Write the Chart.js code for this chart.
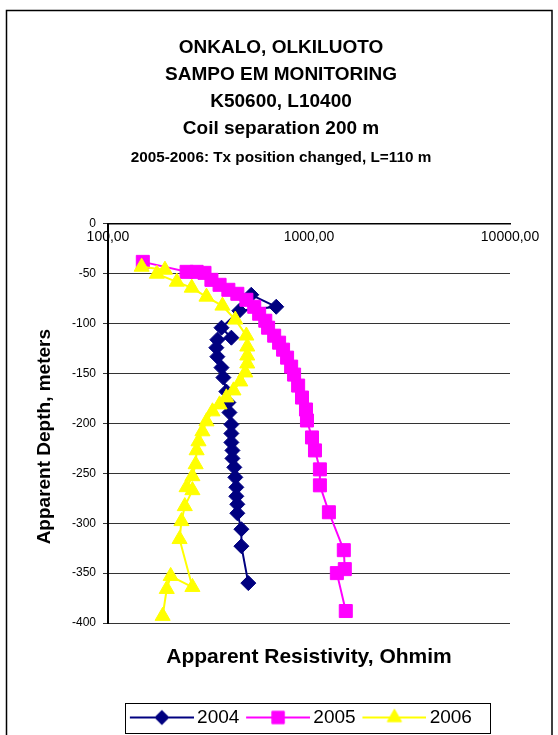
<!DOCTYPE html>
<html>
<head>
<meta charset="utf-8">
<script src="https://cdn.jsdelivr.net/npm/chart.js@4.4.1/dist/chart.umd.min.js"></script>
<style>
  html, body { margin: 0; padding: 0; background: #fff; }
</style>
</head>
<body>
<canvas id="sampoChart" width="558" height="735"></canvas>
<script>
const FONT = "'Liberation Sans', Arial, sans-serif";

// apparent resistivity (ohm-m) and apparent depth (m) per survey year
const res2004 = [516, 687, 450, 367, 411, 350, 346, 350, 367, 375, 388, 397, 402, 411, 411, 411, 416, 416, 425, 430, 435, 435, 440, 440, 461, 461, 499];
const depth2004 = [-71, -83, -87, -104, -114, -116, -124, -133, -144, -154, -168, -179, -189, -201, -210, -219, -227, -235, -244, -254, -264, -273, -281, -290, -306, -323, -360];

const res2005 = [149, 246, 276, 302, 327, 359, 397, 440, 488, 534, 565, 606, 626, 671, 710, 743, 778, 815, 843, 883, 923, 966, 977, 1035, 1071, 1133, 1133, 1256, 1490, 1507, 1376, 1524];
const depth2005 = [-38, -48, -48, -49, -56, -61, -66, -70, -76, -83, -90, -97, -104, -112, -119, -126, -134, -143, -151, -162, -174, -186, -197, -214, -227, -246, -262, -289, -327, -346, -350, -388];

const res2006 = [147, 192, 175, 220, 261, 309, 371, 430, 488, 493, 493, 493, 482, 455, 421, 388, 359, 331, 309, 295, 282, 276, 273, 263, 246, 263, 241, 232, 227, 263, 205, 196, 187];
const depth2006 = [-43, -46, -50, -58, -64, -73, -82, -96, -112, -123, -132, -140, -149, -158, -167, -174, -181, -188, -198, -208, -218, -227, -241, -253, -264, -267, -283, -298, -316, -364, -353, -366, -393];

const xTickValues = [100, 1000, 10000];
const yMin = -400, yMax = 0, yStep = 50;

const toPoints = (xs, ys) => xs.map((x, i) => ({ x: x, y: ys[i] }));

const series = [
    { label: "2004", color: "#000080", style: "rectRot", radius: 7.5, x: res2004, y: depth2004, order: 3 },
    { label: "2005", color: "#ff00ff", style: "rect", radius: 9.2, x: res2005, y: depth2005, order: 2 },
    { label: "2006", color: "#ffff00", style: "triangle", radius: 8.7, x: res2006, y: depth2006, order: 1 }
];

// "line + marker" images for the legend entries (content sits a bit right of centre)
function legendIcon(s) {
    const c = document.createElement("canvas");
    c.width = 70;
    c.height = 22;
    const g = c.getContext("2d");
    g.strokeStyle = s.color;
    g.lineWidth = 2;
    g.beginPath();
    g.moveTo(6, 11);
    g.lineTo(70, 11);
    g.stroke();
    g.fillStyle = s.color;
    g.lineWidth = 1;
    Chart.helpers.drawPoint(g, { pointStyle: s.style, radius: s.radius * 0.95, borderWidth: 1, rotation: 0 }, 38, 11);
    return c;
}
const icons = series.map(legendIcon);

// white page with a thin frame, plus a box around the legend
const framePlugin = {
    id: "frame",
    afterLayout(chart) {
        // pull the legend row a little to the left
        chart.legend.left -= 8;
        chart.legend.right -= 8;
    },
    beforeDraw(chart) {
        const ctx = chart.ctx;
        ctx.save();
        ctx.fillStyle = "#fff";
        ctx.fillRect(0, 0, chart.width, chart.height);
        ctx.strokeStyle = "#000";
        ctx.lineWidth = 1.5;
        ctx.strokeRect(6.5, 10.5, 545.5, 800);
        ctx.restore();
    },
    afterDraw(chart) {
        const boxes = chart.legend.legendHitBoxes;
        if (!boxes || !boxes.length) return;
        const left = Math.min(...boxes.map(b => b.left)) - 5;
        const right = Math.max(...boxes.map(b => b.left + b.width)) + 18;
        const mid = boxes[0].top + boxes[0].height / 2;
        const ctx = chart.ctx;
        ctx.save();
        ctx.strokeStyle = "#000";
        ctx.lineWidth = 1;
        ctx.strokeRect(Math.round(left) + 0.5, Math.round(mid - 15) + 0.5, Math.round(right - left), 30);
        ctx.restore();
    }
};

const ctx = document.getElementById("sampoChart").getContext("2d");

const sampoChart = new Chart(ctx, {
    type: "scatter",
    data: {
        datasets: series.map(s => ({
            label: s.label,
            data: toPoints(s.x, s.y),
            showLine: true,
            borderColor: s.color,
            backgroundColor: s.color,
            borderWidth: 2,
            pointStyle: s.style,
            pointRadius: s.radius,
            pointHoverRadius: s.radius,
            pointBorderWidth: 1,
            tension: 0,
            order: s.order
        }))
    },
    options: {
        responsive: false,
        animation: false,
        layout: { padding: { left: 4, right: 0, top: 0, bottom: -2 } },
        plugins: {
            title: {
                display: true,
                text: ["ONKALO, OLKILUOTO", "SAMPO EM MONITORING", "K50600, L10400", "Coil separation 200 m"],
                color: "#000",
                font: { family: FONT, size: 19, weight: "bold", lineHeight: 27 / 19 },
                padding: { top: 34.5, bottom: 0 }
            },
            subtitle: {
                display: true,
                text: "2005-2006: Tx position changed, L=110 m",
                color: "#000",
                font: { family: FONT, size: 15.3, weight: "bold", lineHeight: 1.2 },
                padding: { top: 6.3, bottom: 56.8 }
            },
            legend: {
                position: "bottom",
                fullSize: false,
                labels: {
                    usePointStyle: true,
                    pointStyleWidth: 57.5,
                    padding: 7,
                    color: "#000",
                    font: { family: FONT, size: 19 },
                    generateLabels: chart => chart.data.datasets.map((ds, i) => ({
                        text: ds.label,
                        pointStyle: icons[i],
                        fillStyle: ds.backgroundColor,
                        strokeStyle: ds.borderColor,
                        lineWidth: 0,
                        hidden: false,
                        datasetIndex: i
                    }))
                }
            },
            tooltip: { enabled: false }
        },
        scales: {
            x: {
                type: "logarithmic",
                min: 100,
                max: 10000,
                position: { y: 0 },
                afterBuildTicks: axis => {
                    axis.ticks = xTickValues.map(v => ({ value: v }));
                },
                ticks: {
                    color: "#000",
                    font: { family: FONT, size: 14 },
                    padding: 5,
                    maxRotation: 0,
                    autoSkip: false,
                    callback: v => Number(v).toFixed(2).replace(".", ",")
                },
                grid: { display: false, drawTicks: false },
                border: { display: true, color: "#000", width: 1.5 }
            },
            x2: {
                type: "logarithmic",
                axis: "x",
                min: 100,
                max: 10000,
                position: "bottom",
                ticks: { display: false },
                grid: { display: false, drawTicks: false },
                border: { display: false },
                title: {
                    display: true,
                    text: "Apparent Resistivity, Ohmim",
                    color: "#000",
                    font: { family: FONT, size: 21, weight: "bold", lineHeight: 1.2 },
                    padding: { top: 21.4, bottom: 31.4 }
                }
            },
            y: {
                type: "linear",
                min: yMin,
                max: yMax,
                position: "left",
                afterFit: axis => { axis.width = 104; },
                ticks: {
                    stepSize: yStep,
                    color: "#000",
                    font: { family: FONT, size: 12 },
                    padding: 7
                },
                grid: { color: "#333", lineWidth: 1, tickLength: 5 },
                border: { color: "#000", width: 2 },
                title: {
                    display: true,
                    // trailing spaces push the centred caption a little lower
                    text: "Apparent Depth, meters     ",
                    color: "#000",
                    font: { family: FONT, size: 19, weight: "bold", lineHeight: 1.2 },
                    padding: { top: 29.6, bottom: 0 }
                }
            },
            yRight: {
                type: "linear",
                axis: "y",
                position: "right",
                afterFit: axis => { axis.width = 48; },
                ticks: { display: false },
                grid: { display: false, drawTicks: false },
                border: { display: false }
            }
        }
    },
    plugins: [framePlugin]
});
</script>
</body>
</html>
